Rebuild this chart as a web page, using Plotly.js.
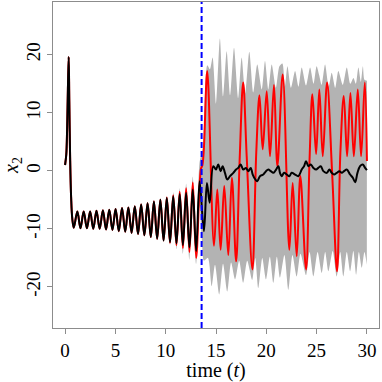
<!DOCTYPE html>
<html><head><meta charset="utf-8">
<script src="https://cdn.plot.ly/plotly-3.0.1.min.js"></script>
<style>html,body{margin:0;padding:0;background:#fff}#plot{width:382px;height:382px}</style>
</head><body><div id="plot"></div>
<script>
// ---- truth (red) ----
const truthT = [0,0.12,0.2,0.28,0.36,0.42,0.5,0.6,0.72,0.87,
 1.22,1.53,1.85,2.17,2.49,2.80,3.12,3.44,3.76,4.07,4.39,4.71,5.02,5.34,5.66,5.98,6.29,6.61,6.93,7.25,7.56,7.88,8.2,8.52,8.83,9.15,9.47,9.79,10.11,10.43,10.75,11.07,11.39,11.71,12.03,12.36,12.69,13.03,
 13.5,13.65,13.8,14.13,14.8,15.13,15.46,15.82,16.22,16.58,17.0,17.35,17.7,18.05,18.62,19.0,19.32,19.64,20.04,20.37,20.76,21.1,21.63,22.29,22.62,23.02,23.38,23.95,24.3,24.58,24.95,25.27,25.61,26.04,26.54,27.03,27.36,27.7,28.03,28.36,28.7,29.09,29.42,29.79,30.0];
const truthY = [1.0,2.8,7,14,19.6,12,2.5,-4.5,-8.3,-9.8,
 -7.0,-9.9,-7.0,-9.9,-7.0,-10.0,-6.9,-10.0,-6.8,-10.1,-6.7,-10.2,-6.6,-10.4,-6.4,-10.5,-6.3,-10.7,-6.1,-10.9,-5.8,-11.1,-5.6,-11.4,-5.3,-11.7,-5.0,-12.0,-4.6,-12.4,-4.2,-12.8,-3.6,-13.3,-3.0,-14.0,-2.0,-15.0,
 0.3,1.0,4,17.2,-12.9,-3.2,-13.6,-2.6,-14.5,-1.2,-15.6,1.9,15.2,2.5,-17.0,3.1,13.0,3.7,13.7,2.5,14.8,0.8,16.6,-13.6,-2.1,-14.7,-0.9,-17.0,2,13.2,2.9,14.0,2.5,15.2,-0.3,-17.3,3.1,12.9,2.5,13.4,2.5,14.0,2.5,15.2,1.7];

// ---- ensemble mean (black) ----
const meanT = [0,0.12,0.2,0.28,0.36,0.42,0.5,0.6,0.72,0.87,
 1.22,1.53,1.85,2.17,2.49,2.80,3.12,3.44,3.76,4.07,4.39,4.71,5.02,5.34,5.66,5.98,6.29,6.61,6.93,7.25,7.56,7.88,8.2,8.52,8.83,9.15,9.47,9.79,10.11,10.43,10.75,11.07,11.39,11.71,12.03,12.36,12.69,13.03,
 13.37,13.8,14.1,14.37,14.73,15.0,15.22,15.46,15.66,15.89,16.12,16.39,16.72,16.99,17.21,17.45,17.71,17.98,18.21,18.45,18.65,18.91,19.1,19.37,19.7,19.97,20.2,20.44,20.7,20.97,21.2,21.36,21.53,21.76,22.03,22.29,22.52,22.86,23.18,23.52,23.75,23.95,24.18,24.42,24.68,24.95,25.17,25.41,25.67,26.01,26.27,26.5,26.74,27.0,27.26,27.5,27.73,28.0,28.33,28.6,28.83,29.06,29.32,29.59,29.82,30.0];
const meanY = [1.0,2.8,7,14,19.6,12,2.5,-4.5,-8.3,-9.8,
 -7.0,-9.9,-7.0,-9.9,-7.0,-10.0,-6.9,-10.0,-6.8,-10.1,-6.7,-10.2,-6.6,-10.4,-6.4,-10.5,-6.3,-10.7,-6.1,-10.9,-5.8,-11.1,-5.6,-11.4,-5.3,-11.7,-5.0,-12.0,-4.7,-12.3,-4.4,-12.5,-4.0,-12.8,-3.8,-13.2,-3.2,-13.8,
 -1.8,-10.4,-2.1,-5.5,0.8,0.22,1.09,-0.06,0.8,-0.35,-1.5,-0.93,-0.35,0.22,0.5,1.09,0.22,0.5,-0.06,0.5,-0.64,-1.5,-1.8,-0.93,-0.64,-0.06,0.22,-0.06,-0.35,0.22,0.8,-0.35,-0.93,-0.35,-0.64,-0.93,-0.35,-0.64,-0.93,0.22,0.8,1.66,0.8,1.09,0.5,0.22,0.5,0.8,-0.06,-0.35,0.22,-0.35,-0.64,-0.35,-0.06,-0.35,-0.06,0.22,-0.64,-1.2,-1.96,-0.35,0.8,1.09,0.5,0.1];

// ---- ensemble spread: lower and upper edges (grey) ----
const lowT = [10.11,10.43,10.75,11.07,11.39,11.71,12.03,12.36,12.69,13.03,13.37,13.6,13.8,14.2,14.57,14.9,15.32,15.7,16.12,16.5,16.9,17.3,17.7,18.1,18.6,18.9,19.2,19.6,19.97,20.35,20.7,21.05,21.36,21.8,22.19,22.6,23.02,23.4,23.95,24.3,24.68,25.1,25.51,25.85,26.17,26.6,27.0,27.35,27.66,28.0,28.33,28.65,28.93,29.2,29.49,29.75,29.99];
const lowY = [-4.9,-12.8,-4.8,-13.5,-4.6,-14.3,-4.6,-15.3,-4.4,-16.0,-6,-12,-15.5,-15,-19.9,-16.2,-21.3,-16,-20.8,-15.8,-18.7,-15.5,-19.3,-15.5,-18.8,-15.0,-20.2,-15.0,-18.7,-14.8,-19.3,-14.8,-18.4,-14.5,-20.5,-14.5,-18.2,-14.3,-18.0,-14.0,-18.2,-14.0,-17.6,-14.0,-17.3,-13.8,-18.2,-14,-18.2,-14,-17.3,-13.8,-17.9,-14,-16.7,-14,-16.2];
const highT = [10.11,10.43,10.75,11.07,11.39,11.71,12.03,12.36,12.69,13.03,13.37,13.7,14.13,14.4,14.66,15.0,15.39,15.7,16.06,16.4,16.79,17.2,17.55,17.9,18.31,18.7,19.1,19.55,19.87,20.2,20.54,20.95,21.3,21.6,21.85,22.1,22.45,22.86,23.2,23.52,23.95,24.35,24.7,25.0,25.25,25.5,25.84,26.2,26.5,26.85,27.16,27.6,28.0,28.35,28.66,28.9,29.15,29.4,29.6,29.75,30.0];
const highY = [-4.2,-12.0,-3.7,-12.0,-3.0,-12.2,-2.2,-12.4,-1.0,-12.0,1.5,4,18.2,17.5,19.5,11.5,22.8,12.8,20.6,13.0,21.2,12.5,19.5,13.3,20.5,13.5,18.3,14.0,18.9,14.0,18.3,14.3,18.0,18.5,14.5,18.0,14.3,17.2,14.5,17.8,14.7,17.8,15.0,18.0,16.5,14.8,18.3,14.5,16.9,14.3,17.2,14.8,17.8,15.0,16.0,15.0,17.8,15.3,18.0,15.7,15.5];

// ---- end of assimilation window (blue) ----
const assimEnd = [13.57];

// ---- axes ----
const xTicks = [0,5,10,15,20,25,30];
const xTickText = ['0','5','10','15','20','25','30'];
const yTicks = [-20,-10,0,10,20];
const yTickText = ['-20','-10','0','10','20'];

const F = "'Liberation Serif', 'Times New Roman', serif";
const traces = [
 {x: lowT, y: lowY, mode:'lines', line:{width:0, color:'#b3b3b3', shape:'spline', smoothing:0.7}, hoverinfo:'skip', showlegend:false},
 {x: highT, y: highY, mode:'lines', fill:'tonexty', fillcolor:'#b3b3b3', line:{width:0, color:'#b3b3b3', shape:'spline', smoothing:0.7}, hoverinfo:'skip', showlegend:false},
 {x: truthT, y: truthY, mode:'lines', line:{color:'#ff0000', width:2, shape:'spline', smoothing:1}, showlegend:false},
 {x: meanT, y: meanY, mode:'lines', line:{color:'#000000', width:2, shape:'spline', smoothing:1}, showlegend:false}
];
const axisBase = {ticks:'outside', ticklen:5, tickwidth:1, tickcolor:'#8c8c8c', showline:true, mirror:true,
  linecolor:'#8c8c8c', linewidth:1, showgrid:false, zeroline:false, tickmode:'array',
  tickfont:{family:F, size:19, color:'#000'}};
const layout = {
 width:382, height:382, margin:{l:53, r:3, t:2, b:54},
 paper_bgcolor:'#fff', plot_bgcolor:'#fff', showlegend:false,
 xaxis: Object.assign({}, axisBase, {range:[-1.2,31.2], tickvals:xTicks, ticktext:xTickText,
   title:{text:'time (<i>t</i>)', font:{family:F, size:20, color:'#000'}, standoff:6}}),
 yaxis: Object.assign({}, axisBase, {range:[-27.08,29.08], tickvals:yTicks, ticktext:yTickText, tickangle:-90,
   ticklabelstandoff:-1,
   title:{text:'<i>x</i><sub>2</sub>', font:{family:F, size:20, color:'#000'}, standoff:1}}),
 shapes:[{type:'line', xref:'x', yref:'paper', x0:assimEnd[0], x1:assimEnd[0], y0:0, y1:1,
   line:{color:'#0000ff', width:2, dash:'6px,3px'}}]
};
Plotly.newPlot('plot', traces, layout, {staticPlot:true, displayModeBar:false});
</script></body></html>
